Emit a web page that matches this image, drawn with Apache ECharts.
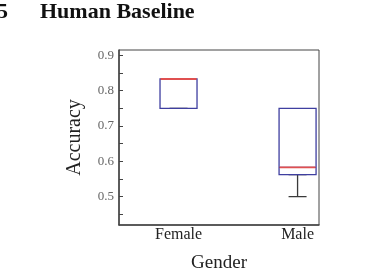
<!DOCTYPE html>
<html><head><meta charset="utf-8">
<script src="https://cdn.jsdelivr.net/npm/echarts@6/dist/echarts.min.js"></script>
<style>html,body{margin:0;padding:0;background:#fff}#c{width:367px;height:278px}</style>
</head><body><div id="c"></div>
<script>
const categories = ['Female', 'Male'];
const mins    = [0.75, 0.50];
const q1s     = [0.75, 0.5625];
const medians = [0.833, 0.583];
const q3s     = [0.833, 0.75];
const maxs    = [0.833, 0.75];
const yTickLabels = [0.5, 0.6, 0.7, 0.8, 0.9];
const yTicks = [0.45, 0.5, 0.55, 0.6, 0.65, 0.7, 0.75, 0.8, 0.85, 0.9];

const serif = '"Liberation Serif", "DejaVu Serif", serif';
const whiskerData = categories.map((c, i) => [i, mins[i], q1s[i], q1s[i], q1s[i], q1s[i]]);
const boxData = categories.map((c, i) => [i, q1s[i], q1s[i], medians[i], q3s[i], maxs[i]]);
const medData = categories.map((c, i) => [i, medians[i], medians[i], medians[i], medians[i], medians[i]]);

const baseX = {
  type: 'value', min: -0.5, max: 1.18, gridIndex: 0,
  splitLine: {show: false}
};
const chart = echarts.init(document.getElementById('c'), null, {renderer: 'canvas'});
chart.setOption({
  animation: false,
  backgroundColor: '#fff',
  graphic: [
    {type: 'text', left: -3, top: 1, style: {text: '5', font: 'bold 22px ' + serif, fill: '#111'}},
    {type: 'text', left: 40, top: 1, style: {text: 'Human Baseline', font: 'bold 22px ' + serif, fill: '#111'}}
  ],
  grid: {left: 119, top: 50, width: 200, height: 178, show: true, borderColor: '#444', borderWidth: 1, backgroundColor: 'transparent'},
  xAxis: [
    Object.assign({}, baseX, {
      name: 'Gender', nameLocation: 'middle', nameGap: 29,
      nameTextStyle: {fontFamily: serif, fontSize: 19, color: '#222'},
      axisLine: {show: true, onZero: false, lineStyle: {color: '#444', width: 1.5}},
      axisTick: {show: false},
      axisLabel: {customValues: [0, 1], formatter: v => categories[Math.round(v)], fontFamily: serif, fontSize: 16, color: '#222', margin: 2}
    }),
    Object.assign({}, baseX, {show: false}),
    Object.assign({}, baseX, {show: false})
  ],
  yAxis: {
    type: 'value', min: 0.42, max: 0.915,
    name: 'Accuracy', nameLocation: 'middle', nameGap: 34, nameRotate: 90,
    nameTextStyle: {fontFamily: serif, fontSize: 20, color: '#222'},
    axisLine: {show: true, onZero: false, lineStyle: {color: '#444', width: 1.5}},
    axisTick: {show: true, inside: true, length: 4, customValues: yTicks, lineStyle: {color: '#444'}},
    splitLine: {show: false},
    axisLabel: {customValues: yTickLabels, formatter: v => v.toFixed(1), fontFamily: serif, fontSize: 13, color: '#666', margin: 5}
  },
  series: [
    {type: 'boxplot', xAxisIndex: 0, data: whiskerData, boxWidth: [18, 18], itemStyle: {color: 'transparent', borderColor: '#3a3a3a', borderWidth: 1.3}, z: 2},
    {type: 'boxplot', xAxisIndex: 1, data: boxData, boxWidth: [37, 37], itemStyle: {color: 'transparent', borderColor: '#3f3fa0', borderWidth: 1.3}, z: 3},
    {type: 'boxplot', xAxisIndex: 2, data: medData, boxWidth: [36, 36], itemStyle: {color: 'transparent', borderColor: '#e05050', borderWidth: 1.8}, z: 4}
  ]
});
</script></body></html>
